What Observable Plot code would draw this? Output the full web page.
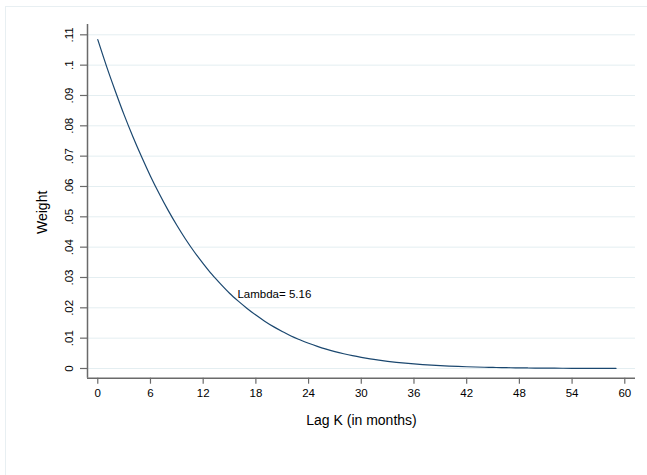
<!DOCTYPE html>
<html>
<head>
<meta charset="utf-8">
<script src="https://cdn.jsdelivr.net/npm/d3@7"></script>
<script src="https://cdn.jsdelivr.net/npm/@observablehq/plot@0.6"></script>
<style>
  html, body { margin: 0; padding: 0; background: #ffffff; }
  #wrap { position: relative; width: 647px; height: 475px; overflow: hidden; background: #ffffff; }
  #border { position: absolute; left: 5px; top: 6px; width: 660px; height: 480px; border-top: 1px solid #e8eff2; border-left: 1px solid #e8eff2; box-sizing: border-box; }
  #chart { position: absolute; left: 0; top: 0; }
</style>
</head>
<body>
<div id="wrap"><div id="border"></div><div id="chart"></div></div>
<script>
// Lag (months) and estimated weights
const lags = d3.range(0, 60);
const weights = [
  0.1084, 0.0996, 0.0914, 0.0836, 0.0764, 0.0697, 0.0634, 0.0576, 0.0522, 0.0472,
  0.0426, 0.0384, 0.0346, 0.0310, 0.0278, 0.0248, 0.0222, 0.0198, 0.0176, 0.0156,
  0.0138, 0.0122, 0.0107, 0.00946, 0.00831, 0.00728, 0.00637, 0.00557, 0.00486, 0.00422,
  0.00366, 0.00317, 0.00275, 0.00237, 0.00204, 0.00176, 0.00151, 0.00129, 0.00110, 0.00094,
  0.00080, 0.00068, 0.00058, 0.00049, 0.00041, 0.00035, 0.00029, 0.00025, 0.00021, 0.00017,
  0.00014, 0.00012, 0.00010, 0.00008, 0.00007, 0.00006, 0.00005, 0.00004, 0.00003, 0.00003
];
const xTicks = [0, 6, 12, 18, 24, 30, 36, 42, 48, 54, 60];
const yTicks = [0, 0.01, 0.02, 0.03, 0.04, 0.05, 0.06, 0.07, 0.08, 0.09, 0.10, 0.11];
const yTickLabels = ["0", ".01", ".02", ".03", ".04", ".05", ".06", ".07", ".08", ".09", ".1", ".11"];
const annotations = [{k: 15.9, w: 0.0244, label: "Lambda= 5.16"}];
const xTitle = "Lag K (in months)";
const yTitle = "Weight";

const data = lags.map((k, i) => ({k, w: weights[i]}));
const xDomain = [-1.17, 61.22];
const yDomain = [-0.0032, 0.1134];
const axisColor = "#6a6a6a";
const font = "'Liberation Sans', Arial, Helvetica, sans-serif";

const chart = Plot.plot({
  width: 647,
  height: 475,
  marginLeft: 87,
  marginRight: 12,
  marginTop: 24,
  marginBottom: 97.3,
  x: {domain: xDomain, label: null},
  y: {domain: yDomain, label: null},
  style: {fontFamily: font, background: "transparent", color: "#000"},
  marks: [
    Plot.gridY(yTicks, {stroke: "#e4eef1", strokeOpacity: 1, strokeWidth: 1}),
    Plot.axisY(yTicks, {tickSize: 7, tickFormat: () => "", stroke: axisColor, strokeWidth: 1.2, label: null}),
    Plot.text(yTicks, {
      y: d => d, text: (d, i) => yTickLabels[i], frameAnchor: "left", dx: -17.7,
      rotate: -90, textAnchor: "middle", lineAnchor: "middle", fontSize: 11.5, fill: "#000"
    }),
    Plot.axisX(xTicks, {tickSize: 6, tickPadding: 5, fontSize: 11.5, stroke: axisColor, strokeWidth: 1.2, fill: "#000", label: null}),
    Plot.ruleX([xDomain[0]], {stroke: axisColor, strokeWidth: 1.5}),
    Plot.ruleY([yDomain[0]], {stroke: axisColor, strokeWidth: 1.5}),
    Plot.line(data, {x: "k", y: "w", stroke: "#1a476f", strokeWidth: 1.2, curve: "monotone-x"}),
    Plot.text(annotations, {x: "k", y: "w", text: "label", textAnchor: "start", lineAnchor: "middle", fontSize: 11.5, fill: "#000"}),
    Plot.text([xTitle], {text: d => d, frameAnchor: "bottom", dy: 42.3, lineAnchor: "middle", fontSize: 14, fill: "#000"}),
    Plot.text([yTitle], {text: d => d, frameAnchor: "left", dx: -45.3, dy: 11, rotate: -90, textAnchor: "middle", lineAnchor: "middle", fontSize: 14, fill: "#000"})
  ]
});
document.getElementById("chart").appendChild(chart);
</script>
</body>
</html>
